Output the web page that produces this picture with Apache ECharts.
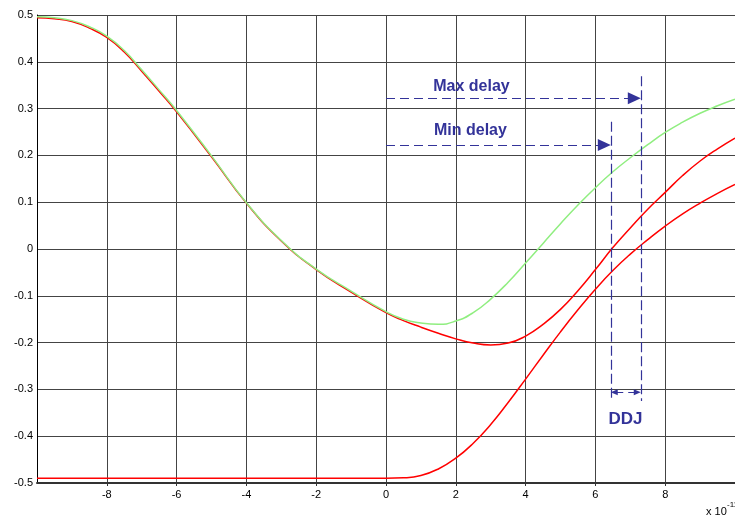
<!DOCTYPE html>
<html lang="en">
<head>
    <meta charset="UTF-8">
    <title>DDJ</title>
    <script src="https://cdn.jsdelivr.net/npm/echarts@6/dist/echarts.min.js"></script>
    <style>
        html, body { margin: 0; padding: 0; background: #fff; }
        #chart { width: 735px; height: 518px; }
    </style>
</head>
<body>
    <div id="chart"></div>
    <script>
        // x in units of 1e-11 s
        var xVals = [-10, -9.5, -9, -8.5, -8, -7.5, -7, -6.5, -6, -5, -4, -3, -2, -1, 0,
            0.5, 1, 1.5, 2, 2.5, 3, 3.5, 4, 4.5, 5, 5.5, 6, 6.5, 7, 7.5, 8, 8.5, 9, 9.5, 10];
        var greenVals = [0.496, 0.494, 0.488, 0.475, 0.455, 0.424, 0.383, 0.340, 0.296, 0.199, 0.099, 0.018, -0.043, -0.090, -0.134,
            -0.150, -0.158, -0.161, -0.154, -0.136, -0.107, -0.071, -0.030, 0.012,
            0.054, 0.094, 0.131, 0.165, 0.195, 0.223, 0.249, 0.271, 0.290, 0.306, 0.320];
        var redUpperVals = [0.494, 0.492, 0.486, 0.472, 0.452, 0.421, 0.380, 0.337, 0.293, 0.197, 0.098, 0.017, -0.044, -0.092, -0.136,
            -0.153, -0.167, -0.180, -0.192, -0.201, -0.205, -0.201, -0.186, -0.161,
            -0.129, -0.089, -0.044, 0.003, 0.045, 0.085, 0.121, 0.157, 0.188, 0.214, 0.237];
        var redLowerVals = [-0.49, -0.49, -0.49, -0.49, -0.49, -0.49, -0.49, -0.49, -0.49, -0.49, -0.49, -0.49, -0.49, -0.49, -0.49,
            -0.489, -0.484, -0.470, -0.447, -0.415, -0.375, -0.328, -0.278, -0.227,
            -0.177, -0.130, -0.086, -0.046, -0.011, 0.020, 0.049, 0.075, 0.098, 0.119, 0.138];

        // annotations (data coords)
        var minDelayX = 6.44;
        var maxDelayX = 7.3;
        var maxArrowY = 0.322;
        var minArrowY = 0.222;
        var ddjArrowY = -0.306;
        var vLineBottom = -0.325;
        var labelX = [2.45, 2.42, 6.86];
        var labelY = [0.348, 0.252, -0.364];
        var labelText = ['Max delay', 'Min delay', 'DDJ'];
        var labelSize = [16, 16, 17];

        function pairs(ys) {
            var out = [];
            for (var i = 0; i < xVals.length; i++) out.push([xVals[i], ys[i]]);
            return out;
        }

        var blue = '#333399';
        var font = 'Liberation Sans, Arial, sans-serif';
        var arrowHalf = 0.185; // half arrow length in x units
        var dash = { color: blue, width: 1.2, type: [9, 5] };
        var vdash = { color: blue, width: 1.2, type: [10, 4] };

        var textPoints = labelText.map(function (t, i) {
            return {
                name: t,
                coord: [labelX[i], labelY[i]],
                label: { fontSize: labelSize[i] }
            };
        });

        var myChart = echarts.init(document.getElementById('chart'));
        var option = {
            animation: false,
            backgroundColor: '#fff',
            grid: { left: 37, top: 15, width: 702, height: 468, containLabel: false },
            xAxis: {
                type: 'value',
                min: -10,
                max: 10,
                interval: 2,
                axisLine: { onZero: false, lineStyle: { color: '#333', width: 2 } },
                axisTick: { show: true, length: 3, lineStyle: { color: '#333' } },
                axisLabel: { showMinLabel: false, showMaxLabel: false, color: '#000', fontSize: 11, fontFamily: font, margin: 6 },
                splitLine: { show: true, lineStyle: { color: '#444', width: 1 } }
            },
            yAxis: {
                type: 'value',
                min: -0.5,
                max: 0.5,
                interval: 0.1,
                axisLine: { show: true, onZero: false, lineStyle: { color: '#000', width: 1 } },
                axisTick: { show: false },
                axisLabel: { color: '#000', fontSize: 11, fontFamily: font, margin: 4 },
                splitLine: { show: true, lineStyle: { color: '#444', width: 1 } }
            },
            graphic: [
                { type: 'text', left: 706, top: 506, style: { text: 'x 10', fontSize: 11, fontFamily: font, fill: '#000' } },
                { type: 'text', left: 727, top: 501, style: { text: '-11', fontSize: 8, fontFamily: font, fill: '#000' } }
            ],
            series: [
                {
                    name: 'green',
                    type: 'line',
                    data: pairs(greenVals),
                    smooth: true,
                    showSymbol: false,
                    lineStyle: { color: '#90ee80', width: 1.5 },
                    z: 3
                },
                {
                    name: 'red1',
                    type: 'line',
                    data: pairs(redUpperVals),
                    smooth: true,
                    showSymbol: false,
                    lineStyle: { color: '#ff0000', width: 1.5 },
                    z: 2
                },
                {
                    name: 'red2',
                    type: 'line',
                    data: pairs(redLowerVals),
                    smooth: true,
                    showSymbol: false,
                    lineStyle: { color: '#ff0000', width: 1.5 },
                    z: 2,
                    markLine: {
                        silent: true,
                        symbol: ['none', 'none'],
                        label: { show: false },
                        emphasis: { disabled: true },
                        data: [
                            [{ coord: [0, maxArrowY], lineStyle: dash }, { coord: [maxDelayX - arrowHalf, maxArrowY], symbol: 'triangle', symbolSize: [12, 13] }],
                            [{ coord: [0, minArrowY], lineStyle: dash }, { coord: [minDelayX - arrowHalf, minArrowY], symbol: 'triangle', symbolSize: [12, 13] }],
                            [{ coord: [maxDelayX, 0.369], lineStyle: vdash }, { coord: [maxDelayX, vLineBottom] }],
                            [{ coord: [minDelayX, 0.272], lineStyle: vdash }, { coord: [minDelayX, vLineBottom] }],
                            [{ coord: [minDelayX + 0.1, ddjArrowY], lineStyle: dash, symbol: 'triangle', symbolSize: [6, 7] },
                             { coord: [maxDelayX - 0.1, ddjArrowY], symbol: 'triangle', symbolSize: [6, 7] }]
                        ]
                    },
                    markPoint: {
                        silent: true,
                        symbol: 'circle',
                        symbolSize: 0,
                        itemStyle: { color: blue, opacity: 1 },
                        label: {
                            show: true,
                            position: 'inside',
                            formatter: '{b}',
                            color: blue,
                            fontWeight: 'bold',
                            fontFamily: font,
                            fontSize: 16
                        },
                        data: textPoints
                    }
                }
            ]
        };
        myChart.setOption(option);
    </script>
</body>
</html>
